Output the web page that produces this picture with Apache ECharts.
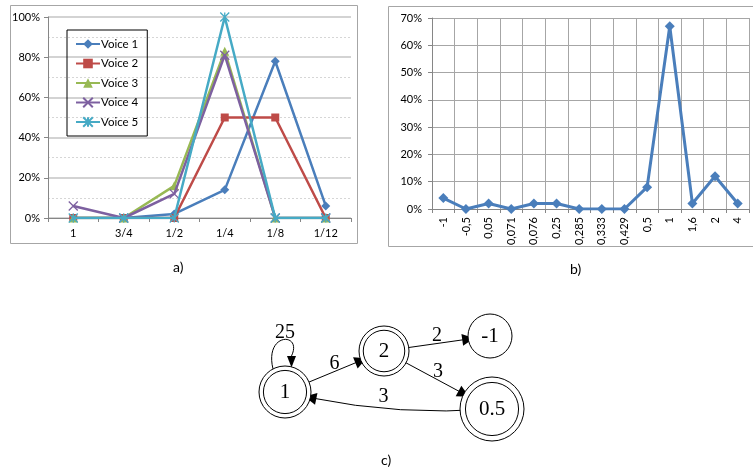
<!DOCTYPE html>
<html>
<head>
<meta charset="utf-8">
<script src="https://cdn.jsdelivr.net/npm/echarts@6/dist/echarts.min.js"></script>
<style>
  html, body { margin: 0; padding: 0; background: #fff; }
  #chart { width: 753px; height: 473px; }
</style>
</head>
<body>
<div id="chart"></div>
<script>
// a) duration distribution per voice (%)
const catsA = ['1', '3/4', '1/2', '1/4', '1/8', '1/12'];
const voiceNames = ['Voice 1', 'Voice 2', 'Voice 3', 'Voice 4', 'Voice 5'];
const voice1 = [0, 0, 2, 14, 78, 6];
const voice2 = [0, 0, 0, 50, 50, 0];
const voice3 = [0, 0, 16, 83, 0, 0];
const voice4 = [6, 0, 12, 81, 0, 0];
const voice5 = [0, 0, 0, 100, 0, 0];
const ticksA = [0, 20, 40, 60, 80, 100];

// b) interval ratio distribution (%)
const catsB = ['-1', '-0,5', '0,05', '0,071', '0,076', '0,25', '0,285', '0,333', '0,429', '0,5', '1', '1,6', '2', '4'];
const valsB = [4, 0, 2, 0, 2, 2, 0, 0, 0, 8, 67, 2, 12, 2];
const ticksB = [0, 10, 20, 30, 40, 50, 60, 70];

// c) transition graph
const graphNodes = ['1', '2', '-1', '0.5'];
const finalNodes = ['1', '2', '0.5'];
const graphEdges = [['1', '1', 25], ['1', '2', 6], ['2', '-1', 2], ['2', '0.5', 3], ['0.5', '1', 3]];

// layout of the diagram (pixels)
const nodeLayout = {
  '1': { x: 285, y: 392, size: 52 },
  '2': { x: 384, y: 351, size: 50 },
  '-1': { x: 490, y: 336, size: 44 },
  '0.5': { x: 492, y: 409, size: 64 }
};

const colors = ['#4A7EBB', '#BE4B48', '#98B954', '#7D60A0', '#46AAC5'];
const symbols = [
  'diamond',
  'rect',
  'triangle',
  'path://M0,0 L10,10 M10,0 L0,10',
  'path://M0,0 L10,10 M10,0 L0,10 M5,0 L5,10'
];
const voices = [voice1, voice2, voice3, voice4, voice5];
const font = 'Lato, "Liberation Sans", sans-serif';
const serif = '"Liberation Serif", "DejaVu Serif", serif';
const doubleRing = 'path://M50,0 A50,50 0 1,1 50,100 A50,50 0 1,1 50,0 Z M50,8.5 A41.5,41.5 0 1,1 50,91.5 A41.5,41.5 0 1,1 50,8.5 Z';

const myChart = echarts.init(document.getElementById('chart'));

const seriesA = voices.map((vals, i) => ({
  name: voiceNames[i],
  type: 'line',
  xAxisIndex: 0,
  yAxisIndex: 0,
  data: vals,
  symbol: symbols[i],
  symbolSize: i === 1 ? 8 : 9,
  showAllSymbol: true,
  lineStyle: { color: colors[i], width: 2.5 },
  itemStyle: { color: colors[i], borderColor: colors[i], borderWidth: i >= 3 ? 1.3 : 0 },
  z: 3 + i
}));

// label spots for the edges, derived from the node layout
const edgeLabels = graphEdges.map(([s, t, w]) => {
  const a = nodeLayout[s], b = nodeLayout[t];
  if (s === t) return { value: [a.x, a.y - a.size / 2 - 33], w };
  let mx = (a.x + b.x) / 2, my = (a.y + b.y) / 2 - 8;
  if (s === '0.5') { mx -= 5; my += 4; }
  return { value: [mx, my], w };
});

// self loops are not drawn by the graph series, so draw them as curves
const loopGraphics = [];
graphEdges.filter(([s, t]) => s === t).forEach(([s]) => {
  const n = nodeLayout[s], r = n.size / 2;
  const x1 = n.x - 12, y1 = n.y - Math.sqrt(r * r - 144);
  const x2 = n.x + 7, y2 = n.y - Math.sqrt(r * r - 49);
  const top = n.y - r - 34;
  loopGraphics.push({
    type: 'bezierCurve',
    shape: { x1: x1, y1: y1, cpx1: x1 - 9, cpy1: top, cpx2: x2 + 11, cpy2: top, x2: x2 - 0.5, y2: y2 - 11 },
    style: { stroke: '#000', lineWidth: 1, fill: 'none' }
  });
  loopGraphics.push({
    type: 'polygon',
    shape: { points: [[x2 - 5, y2 - 11], [x2 + 4, y2 - 11], [x2 - 0.5, y2 + 0.5]] },
    style: { fill: '#000' }
  });
});

myChart.setOption({
  backgroundColor: '#fff',
  animation: false,
  grid: [
    { left: 48, top: 17, width: 303, height: 201 },
    { left: 432, top: 18, width: 317, height: 191 },
    { left: 0, top: 0, width: 753, height: 473 }
  ],
  legend: {
    data: voiceNames,
    orient: 'vertical',
    left: 67,
    top: 30,
    padding: [8, 9, 8, 8],
    itemGap: 7.5,
    itemWidth: 24,
    itemHeight: 12,
    borderColor: '#000',
    borderWidth: 1,
    textStyle: { fontFamily: font, fontSize: 11.5, color: '#000', padding: [0, 0, 0, -4] }
  },
  xAxis: [
    {
      type: 'category', gridIndex: 0, data: catsA, boundaryGap: true,
      axisLine: { lineStyle: { color: '#868686' } },
      axisTick: { show: true, length: 4, lineStyle: { color: '#868686' } },
      axisLabel: { fontFamily: font, fontSize: 11, color: '#000', margin: 10 },
      splitLine: { show: false }
    },
    {
      type: 'category', gridIndex: 1, data: catsB, boundaryGap: true,
      axisLine: { lineStyle: { color: '#868686' } },
      axisTick: { show: true, length: 4, lineStyle: { color: '#868686' } },
      axisLabel: { fontFamily: font, fontSize: 11, color: '#000', margin: 8, rotate: 90, interval: 0 },
      splitLine: { show: true, lineStyle: { color: '#a6a6a6', width: 1 } }
    },
    { type: 'value', gridIndex: 2, min: 0, max: 753, show: false }
  ],
  yAxis: [
    {
      type: 'value', gridIndex: 0, min: 0, max: 100, interval: 20,
      axisLine: { show: true, lineStyle: { color: '#868686' } },
      axisTick: { show: true, length: 4, lineStyle: { color: '#868686' } },
      axisLabel: { fontFamily: font, fontSize: 11, color: '#000', margin: 8, formatter: '{value}%',
        customValues: ticksA },
      splitLine: { show: true, lineStyle: { color: '#c4c4c4', width: 1.5 } },
      minorTick: { show: false, splitNumber: 2 },
      minorSplitLine: { show: true, lineStyle: { color: '#d6d6d6', type: [2, 2], width: 1 } }
    },
    {
      type: 'value', gridIndex: 1, min: 0, max: 70, interval: 10,
      axisLine: { show: true, lineStyle: { color: '#868686' } },
      axisTick: { show: true, length: 4, lineStyle: { color: '#868686' } },
      axisLabel: { fontFamily: font, fontSize: 11, color: '#000', margin: 10, formatter: '{value}%',
        customValues: ticksB },
      splitLine: { show: true, lineStyle: { color: '#a6a6a6', width: 1 } }
    },
    { type: 'value', gridIndex: 2, min: 0, max: 473, inverse: true, show: false }
  ],
  series: seriesA.concat([
    {
      name: 'b',
      type: 'line',
      xAxisIndex: 1,
      yAxisIndex: 1,
      data: valsB,
      symbol: 'diamond',
      symbolSize: 10,
      lineStyle: { color: '#4A7EBB', width: 3 },
      itemStyle: { color: '#4A7EBB' }
    },
    {
      type: 'graph',
      layout: 'none',
      coordinateSystem: 'cartesian2d',
      xAxisIndex: 2,
      yAxisIndex: 2,
      data: graphNodes.map(n => ({
        name: n,
        value: [nodeLayout[n].x, nodeLayout[n].y],
        symbol: finalNodes.includes(n) ? doubleRing : 'circle',
        symbolSize: nodeLayout[n].size
      })),
      links: graphEdges.filter(([s, t]) => s !== t).map(([s, t, w]) => ({
        source: s, target: t, value: w,
        lineStyle: { curveness: s === '0.5' ? 0.08 : 0 }
      })),
      edgeSymbol: ['none', 'triangle'],
      edgeSymbolSize: [0, 12],
      itemStyle: { color: '#fff', borderColor: '#000', borderWidth: 1 },
      lineStyle: { color: '#000', width: 1, opacity: 1 },
      label: { show: true, position: 'inside', fontFamily: serif, fontSize: 21, color: '#000',
        formatter: p => p.name },
      edgeLabel: { show: false }
    },
    {
      type: 'scatter',
      xAxisIndex: 2,
      yAxisIndex: 2,
      symbolSize: 0,
      itemStyle: { opacity: 1 },
      data: edgeLabels.map(e => ({ value: e.value, w: e.w })),
      label: { show: true, position: 'inside', fontFamily: serif, fontSize: 20, color: '#000',
        formatter: p => String(p.data.w) },
      z: 10
    }
  ]),
  graphic: [
    { type: 'rect', shape: { x: 10.5, y: 5.5, width: 347, height: 238 }, style: { fill: 'none', stroke: '#a6a6a6', lineWidth: 1 }, z: -1 },
    { type: 'rect', shape: { x: 388.5, y: 6.5, width: 380, height: 240 }, style: { fill: 'none', stroke: '#a6a6a6', lineWidth: 1 }, z: -1 },
    { type: 'text', left: 173, top: 260, style: { text: 'a)', font: '14px ' + font, fill: '#000' } },
    { type: 'text', left: 570, top: 262, style: { text: 'b)', font: '14px ' + font, fill: '#000' } },
    { type: 'text', left: 381, top: 453, style: { text: 'c)', font: '14px ' + font, fill: '#000' } }
  ].concat(loopGraphics)
});
</script>
</body>
</html>
